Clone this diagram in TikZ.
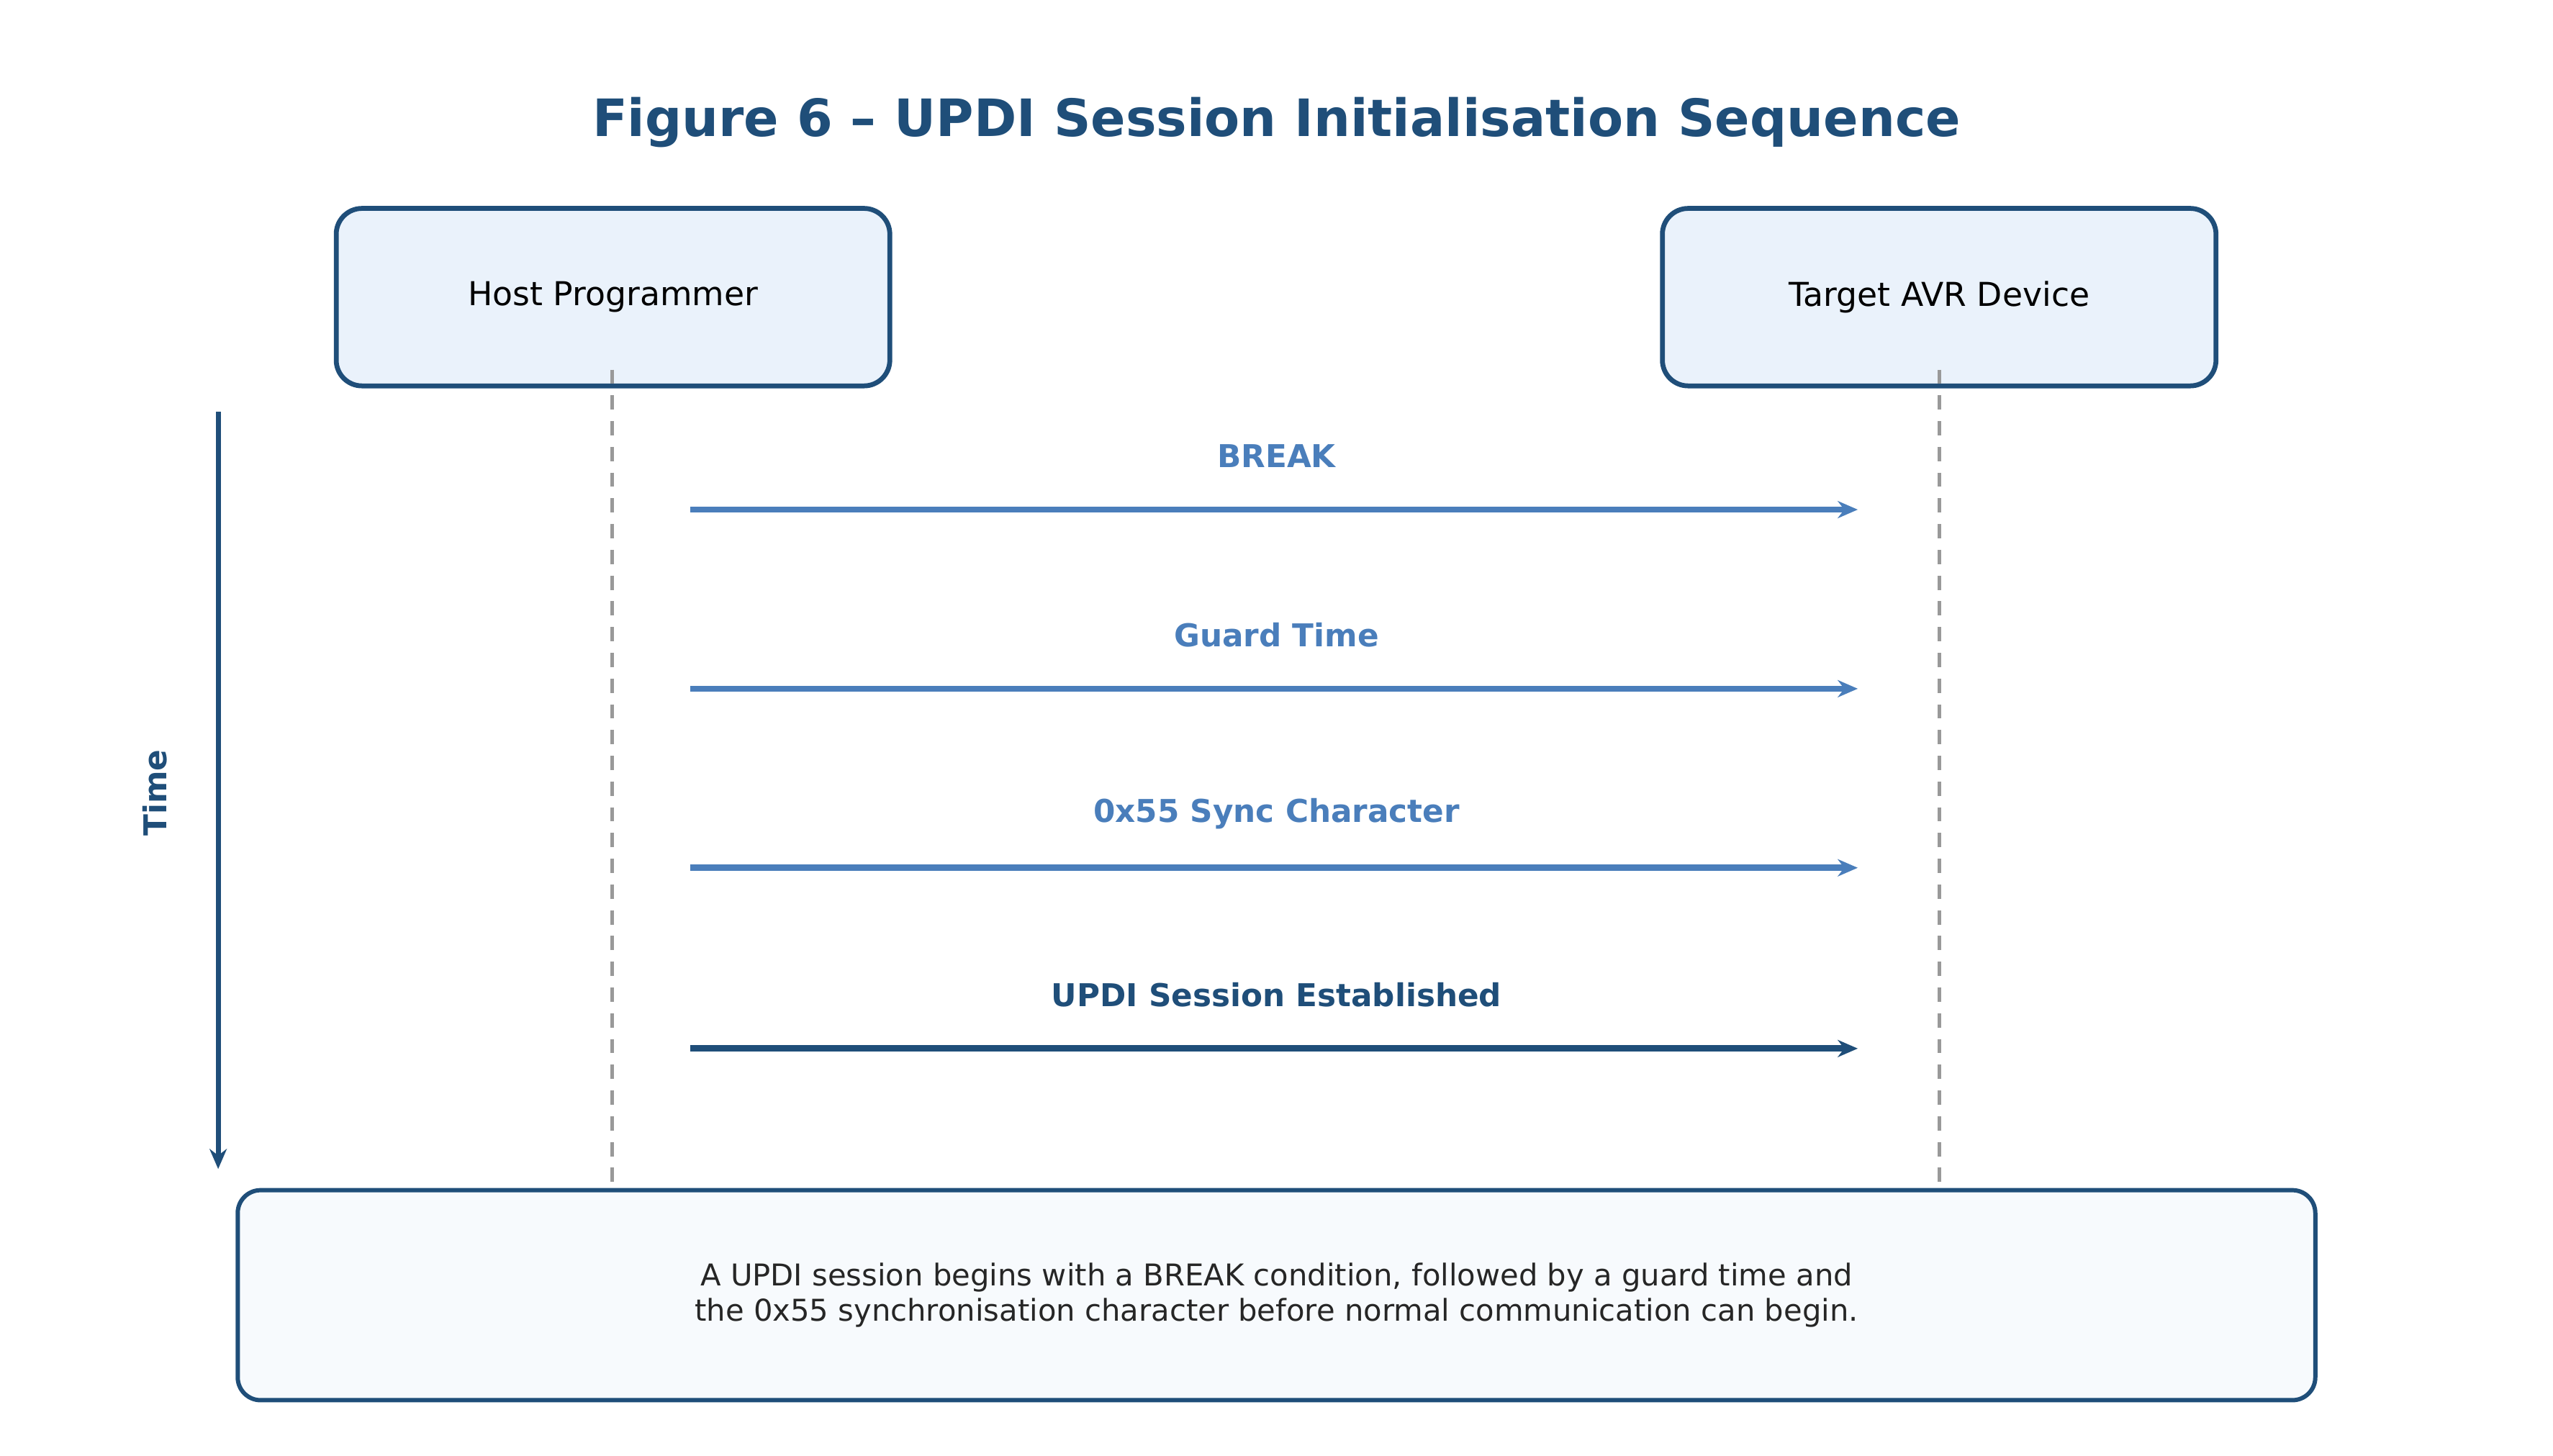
\documentclass[tikz,border=0pt]{standalone}
\usepackage{fontspec}
\setmainfont{DejaVu Sans}
\usetikzlibrary{arrows.meta}
\definecolor{dk}{HTML}{1F4E79}
\definecolor{lt}{HTML}{4A7EBB}
\definecolor{bf}{HTML}{EAF2FB}
\definecolor{nf}{HTML}{F7FAFD}
\begin{document}
\begin{tikzpicture}[x=0.02cm,y=-0.02cm,
  actor/.style={draw=dk,line width=1.7pt,fill=bf,rounded corners=9pt,minimum width=340*0.02cm,minimum height=109*0.02cm,font=\fontsize{11.5}{14}\selectfont},
  life/.style={draw=gray!80,dashed,line width=1.2pt,dash pattern=on 5pt off 4pt},
  msg/.style={line width=2.2pt,-{Stealth[length=7pt,width=6pt]}},
  lab/.style={font=\bfseries\fontsize{11}{13}\selectfont}]
\useasboundingbox (0,0) rectangle (1568,894);
\node[font=\bfseries\fontsize{18}{22}\selectfont,text=dk] (title) at (784,75) {Figure 6 – UPDI Session Initialisation Sequence};
\node[actor] (host) at (376.5,182.5) {Host Programmer};
\node[actor] (tgt) at (1191,182.5) {Target AVR Device};
\coordinate (h1) at (376,227); \coordinate (h2) at (376,738);
\coordinate (t1) at (1191,227); \coordinate (t2) at (1191,738);
\draw[life] (h1) -- (h2); \draw[life] (t1) -- (t2);
\foreach \y/\t/\c/\n in {313/BREAK/lt/a,423/Guard Time/lt/b,533/0x55 Sync Character/lt/c,644/UPDI Session Established/dk/d}{
  \coordinate (s\n) at (424,\y); \coordinate (e\n) at (1141,\y);
  \draw[msg,draw=\c] (s\n) -- (e\n);
  \node[lab,text=\c] (l\n) at (784,\y-33) {\t};
}
\coordinate (ta) at (134,253); \coordinate (tb) at (134,718);
\draw[line width=1.8pt,draw=dk,-{Stealth[length=7pt,width=6pt]}] (ta) -- (tb);
\node[lab,text=dk,rotate=90] (time) at (95,487) {Time};
\node[draw=dk,line width=1.5pt,fill=nf,rounded corners=8pt,minimum width=1276*0.02cm,minimum height=129*0.02cm,align=center,font=\fontsize{10.5}{12.5}\selectfont,text=black!85] (note) at (784,795.5) {A UPDI session begins with a BREAK condition, followed by a guard time and\\the 0x55 synchronisation character before normal communication can begin.};
\end{tikzpicture}
\end{document}
